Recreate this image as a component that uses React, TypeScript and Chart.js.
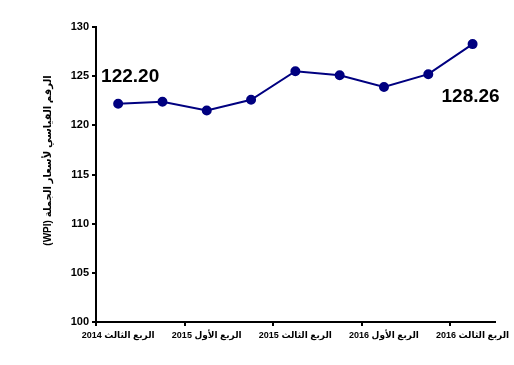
import React, { useEffect, useRef } from "react";
import { Chart, registerables } from "chart.js";

Chart.register(...registerables);

const categories = [
  "الربع الثالث 2014",
  "الربع الرابع 2014",
  "الربع الأول 2015",
  "الربع الثاني 2015",
  "الربع الثالث 2015",
  "الربع الرابع 2015",
  "الربع الأول 2016",
  "الربع الثاني 2016",
  "الربع الثالث 2016",
];
const wpiValues = [122.2, 122.4, 121.5, 122.6, 125.5, 125.1, 123.9, 125.2, 128.26];
const yTitle = "الرقم القياسي لأسعار الجملة (WPI)";
const yMin = 100;
const yMax = 130;
const yStep = 5;

const FONT = "'Liberation Sans', 'DejaVu Sans', sans-serif";

const endLabels = {
  id: "endLabels",
  afterDatasetsDraw(chart: any) {
    const meta = chart.getDatasetMeta(0);
    const ctx = chart.ctx;
    ctx.save();
    ctx.font = `bold 19px ${FONT}`;
    ctx.fillStyle = "#000000";
    ctx.textAlign = "center";
    ctx.textBaseline = "middle";
    const first = meta.data[0];
    const last = meta.data[meta.data.length - 1];
    ctx.fillText(wpiValues[0].toFixed(2), first.x + 12, first.y - 27);
    ctx.fillText(wpiValues[wpiValues.length - 1].toFixed(2), last.x - 2, last.y + 53);
    ctx.restore();
  },
};

const axisTitle = {
  id: "axisTitle",
  afterDraw(chart: any) {
    const ctx = chart.ctx;
    const area = chart.chartArea;
    ctx.save();
    ctx.font = `bold 10px ${FONT}`;
    ctx.fillStyle = "#000000";
    ctx.textAlign = "center";
    ctx.textBaseline = "middle";
    ctx.translate(48, (area.top + area.bottom) / 2 - 14);
    ctx.rotate(-Math.PI / 2);
    ctx.fillText("\u202B" + yTitle + "\u202C", 0, 0);
    ctx.restore();
  },
};

export default function App() {
  const ref = useRef<HTMLCanvasElement>(null);
  useEffect(() => {
    const chart = new Chart(ref.current!, {
      type: "line",
      data: {
        labels: categories,
        datasets: [
          {
            data: wpiValues,
            borderColor: "#000080",
            backgroundColor: "#000080",
            borderWidth: 2,
            pointRadius: 4,
            pointBackgroundColor: "#000080",
            pointBorderColor: "#000080",
            tension: 0,
          },
        ],
      },
      options: {
        animation: false,
        responsive: false,
        maintainAspectRatio: false,
        layout: { padding: { left: 0, right: 16, top: 27, bottom: 0 } },
        plugins: { legend: { display: false }, tooltip: { enabled: false } },
        scales: {
          x: {
            type: "category",
            offset: true,
            grid: {
              offset: true,
              drawOnChartArea: false,
              drawTicks: true,
              tickLength: 4,
              lineWidth: 2,
              color: (c: any) => (c.index % 2 === 0 ? "#000000" : "rgba(0,0,0,0)"),
            },
            border: { display: true, color: "#000000", width: 2 },
            ticks: {
              autoSkip: false,
              maxRotation: 0,
              minRotation: 0,
              padding: 4,
              color: "#000000",
              font: { family: FONT, size: 9, weight: "bold" },
              callback: (_v: any, i: number) => (i % 2 === 0 ? categories[i] : ""),
            },
            afterFit: (s: any) => {
              s.height = 43;
            },
          },
          y: {
            min: yMin,
            max: yMax,
            grid: {
              drawOnChartArea: false,
              drawTicks: true,
              tickLength: 4,
              lineWidth: 2,
              color: "#000000",
            },
            border: { display: true, color: "#000000", width: 2 },
            ticks: {
              stepSize: yStep,
              padding: 3,
              color: "#000000",
              font: { family: FONT, size: 11, weight: "bold" },
            },
            afterFit: (s: any) => {
              s.width = 96;
            },
          },
        },
      },
      plugins: [endLabels, axisTitle],
    });
    return () => chart.destroy();
  }, []);
  return (
    <div style={{ position: "absolute", left: 0, top: 0, width: 514, height: 365, background: "#fff" }}>
      <canvas ref={ref} width={514} height={365} />
    </div>
  );
}
